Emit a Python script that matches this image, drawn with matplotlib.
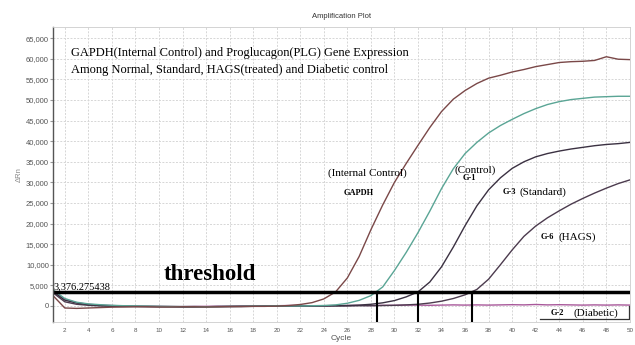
import matplotlib
matplotlib.use('Agg')
import matplotlib.pyplot as plt
import numpy as np

# Amplification curves (delta Rn per cycle)
cycles = np.arange(1, 51)

gapdh = [2500, -500, -600, -500, -400, -300, -250, -200, -200, -250,
         -250, -200, -200, -250, -200, -150, -150, -100, -100, -50,
         100, 350, 800, 1700, 3400, 6800, 12000, 18500, 24500, 30000,
         34600, 39000, 43300, 47200, 50200, 52300, 54000, 55300, 56000, 56800,
         57400, 58100, 58600, 59100, 59300, 59400, 59600, 60500, 59900, 59800]

g1_control = [3900, 1800, 900, 500, 300, 150, 50, 0, -50, -100,
              -150, -150, -150, -200, -150, -100, -100, -50, -50, 0,
              0, 0, 50, 100, 250, 650, 1350, 2500, 4600, 8600,
              13000, 17800, 23000, 28500, 33300, 37000, 39700, 42000, 43800, 45300,
              46700, 47900, 48900, 49600, 50100, 50400, 50700, 50800, 50900, 50900]

g3_standard = [3500, 1400, 700, 300, 100, 0, -50, -100, -100, -150,
               -150, -200, -200, -200, -150, -150, -100, -100, -50, -50,
               0, 0, 0, 0, 50, 100, 200, 400, 750, 1300,
               2200, 3400, 5800, 9500, 14300, 19500, 24300, 28200, 31100, 33400,
               35000, 36200, 37000, 37600, 38100, 38500, 38900, 39200, 39400, 39700]

g6_hags = [3200, 1000, 400, 150, 0, -100, -150, -150, -200, -200,
           -200, -250, -250, -200, -200, -150, -150, -100, -100, -50,
           -50, 0, 0, 0, 0, 0, 50, 50, 100, 150,
           250, 400, 700, 1150, 1800, 2700, 4000, 6500, 10000, 13600,
           16900, 19400, 21400, 23100, 24700, 26100, 27400, 28600, 29700, 30600]

g2_diabetic = [3700, 1600, 800, 400, 200, 100, 0, -50, -100, -100,
               -150, -150, -100, -100, -50, -50, 0, 0, 50, 50,
               100, 100, 50, 50, 100, 100, 150, 100, 150, 150,
               200, 200, 150, 200, 250, 200, 250, 200, 250, 300,
               250, 350, 250, 300, 250, 200, 250, 200, 250, 200]

threshold = 3376.275438
ct_values = [28.5, 32.0, 36.6]

serif = 'Liberation Serif'
sans = 'Liberation Sans'
gray = '#555555'

fig = plt.figure(figsize=(6.35, 3.45), dpi=100)
ax = fig.add_axes([0.0835, 0.0667, 0.9085, 0.856])

ax.plot(cycles, g2_diabetic, color='#a8589a', lw=1.0)
ax.plot(cycles, g6_hags, color='#4c3b4e', lw=1.0)
ax.plot(cycles, g3_standard, color='#3b3142', lw=1.0)
ax.plot(cycles, g1_control, color='#5aa595', lw=1.0)
ax.plot(cycles, gapdh, color='#7a4848', lw=1.0)

ax.set_xlim(1, 50)
ax.set_ylim(-3900, 67800)

ax.axhline(threshold, color='black', lw=2.5)
ax.vlines(ct_values, -3900, threshold, color='black', lw=1.5)

ax.set_yticks(np.arange(0, 65001, 5000))
ax.set_yticklabels(['{:,}'.format(v) for v in range(0, 65001, 5000)])
ax.set_xticks(np.arange(2, 51, 2))
ax.tick_params(axis='y', labelsize=5.5, labelcolor=gray, length=2, color='#999999', pad=1)
ax.tick_params(axis='x', labelsize=4.5, labelcolor=gray, length=0, pad=4)
for lab in ax.get_xticklabels() + ax.get_yticklabels():
    lab.set_family(sans)

ax.grid(True, color='#d6d6d6', lw=0.7, ls=(0, (2, 1.5)))
ax.set_axisbelow(True)
for side in ['top', 'right', 'bottom']:
    ax.spines[side].set_color('#cccccc')
    ax.spines[side].set_linewidth(0.6)
ax.spines['left'].set_color('#555555')
ax.spines['left'].set_linewidth(1.0)

ax.set_title('Amplification Plot', fontsize=5.5, family=sans, color='#333333', pad=6)
ax.set_xlabel('Cycle', fontsize=6, family=sans, color=gray, labelpad=2)
ax.set_ylabel('ΔRn', fontsize=5.5, family=sans, color='#888888', labelpad=2)

ax.text(2.5, 61400, 'GAPDH(Internal Control) and Proglucagon(PLG) Gene Expression',
        family=serif, fontsize=9, va='center', ha='left')
ax.text(2.5, 57280, 'Among Normal, Standard, HAGS(treated) and Diabetic control',
        family=serif, fontsize=9, va='center', ha='left')

ax.text(10.4, 7600, 'threshold', family=serif, fontsize=16.5, fontweight='bold',
        va='center', ha='left')
ax.text(1.05, threshold + 150, '{:,.6f}'.format(threshold), family=serif, fontsize=7.5,
        va='bottom', ha='left')

ax.text(27.66, 32300, '(Internal Control)', family=serif, fontsize=8, ha='center', va='center')
ax.text(27.0, 27500, 'GAPDH', family=serif, fontsize=6, fontweight='bold', ha='center', va='center')
ax.text(36.85, 33000, '(Control)', family=serif, fontsize=8, ha='center', va='center')
ax.text(36.4, 31000, 'G-1', family=serif, fontsize=6, fontweight='bold', ha='center', va='center')
ax.text(39.2, 27700, 'G-3', family=serif, fontsize=6, fontweight='bold', ha='left', va='center')
ax.text(40.6, 27700, '(Standard)', family=serif, fontsize=8, ha='left', va='center')
ax.text(42.4, 16750, 'G-6', family=serif, fontsize=6, fontweight='bold', ha='left', va='center')
ax.text(43.9, 16750, '(HAGS)', family=serif, fontsize=8, ha='left', va='center')
ax.text(43.3, -1700, 'G-2', family=serif, fontsize=6, fontweight='bold', ha='left', va='center')
ax.text(45.2, -1700, '(Diabetic)', family=serif, fontsize=8, ha='left', va='center')

# bracket under the diabetic label
ax.plot([42.4, 49.9, 49.9], [-3230, -3230, 0], color='#333333', lw=0.9)

fig.savefig('out.png', dpi=100)
